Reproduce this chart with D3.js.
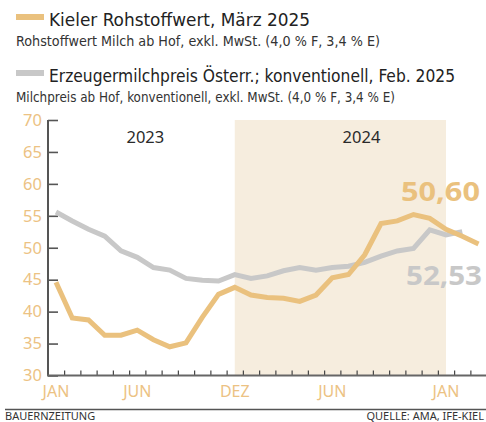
<!DOCTYPE html>
<html>
<head>
<meta charset="utf-8">
<script src="https://cdn.jsdelivr.net/npm/d3@7"></script>
<style>
  html, body { margin: 0; padding: 0; background: #fff; }
  svg { display: block; }
  text { font-family: "Noto Sans", "Open Sans", sans-serif; }
  .narrow { font-family: "Liberation Sans Narrow", "DejaVu Sans Condensed", "Noto Sans", sans-serif; }
</style>
</head>
<body>
<div id="chart"></div>
<script>
// ---- data ----
const months = [
  "2023-01","2023-02","2023-03","2023-04","2023-05","2023-06","2023-07","2023-08","2023-09","2023-10","2023-11","2023-12",
  "2024-01","2024-02","2024-03","2024-04","2024-05","2024-06","2024-07","2024-08","2024-09","2024-10","2024-11","2024-12",
  "2025-01","2025-02","2025-03"
];
// Kieler Rohstoffwert (orange), Jan 2023 – Mar 2025
const kielValues = [44.6, 39.0, 38.7, 36.3, 36.3, 37.1, 35.6, 34.5, 35.1, 39.1, 42.7, 43.8,
                    42.6, 42.2, 42.1, 41.6, 42.6, 45.3, 45.8, 48.9, 53.8, 54.2, 55.2, 54.6,
                    52.9, 51.8, 50.6];
// Erzeugermilchpreis Österreich konventionell (gray), Jan 2023 – Feb 2025
const milkValues = [55.6, 54.2, 52.9, 51.8, 49.5, 48.5, 46.9, 46.5, 45.2, 44.9, 44.8, 45.8,
                    45.2, 45.6, 46.4, 46.9, 46.5, 46.9, 47.1, 47.7, 48.7, 49.5, 49.9, 52.8,
                    52.0, 52.53];
const yTicks = [30, 35, 40, 45, 50, 55, 60, 65, 70];
const xLabels = [
  {month: "2023-01", label: "JAN"},
  {month: "2023-06", label: "JUN"},
  {month: "2023-12", label: "DEZ"},
  {month: "2024-06", label: "JUN"},
  {month: "2025-01", label: "JAN"}
];
const shadeRange = ["2023-12", "2025-01"];
const yearLabels = [{text: "2023", pos: 5.5}, {text: "2024", pos: 18.8}];
const series = [
  {title: "Kieler Rohstoffwert, März 2025",
   sub: "Rohstoffwert Milch ab Hof, exkl. MwSt. (4,0 % F, 3,4 % E)", color: "#EAC17E"},
  {title: "Erzeugermilchpreis Österr.; konventionell, Feb. 2025",
   sub: "Milchpreis ab Hof, konventionell, exkl. MwSt. (4,0 % F, 3,4 % E)", color: "#C8C8C8"}
];
const endLabels = ["50,60", "52,53"];

// ---- drawing ----
const W = 486, H = 422;
const svg = d3.select("#chart").append("svg").attr("width", W).attr("height", H);

const x = d3.scaleLinear().domain([0, months.length - 1]).range([56, 478.5]);
const y = d3.scaleLinear().domain([30, 70]).range([375.5, 120]);
const xi = m => x(months.indexOf(m));

// legend
const legendY = [0, 56];
series.forEach((s, i) => {
  const g = svg.append("g").attr("transform", `translate(0,${legendY[i]})`);
  g.append("rect").attr("x", 16).attr("y", 14).attr("width", 28).attr("height", 6).attr("fill", s.color);
  g.append("text").attr("class", "narrow").attr("x", 49).attr("y", 26).attr("font-size", 18.5).attr("fill", "#222")
    .attr("textLength", i === 0 ? 261 : 406).attr("lengthAdjust", "spacingAndGlyphs").text(s.title);
  g.append("text").attr("class", "narrow").attr("x", 16).attr("y", 45.5).attr("font-size", 13.5).attr("fill", "#333")
    .attr("textLength", i === 0 ? 364 : 379).attr("lengthAdjust", "spacingAndGlyphs").text(s.sub);
});

// shaded 2024 region
svg.append("rect")
  .attr("x", xi(shadeRange[0])).attr("y", y(70))
  .attr("width", xi(shadeRange[1]) - xi(shadeRange[0]))
  .attr("height", y(30) - y(70))
  .attr("fill", "#F6EDDE");

// year labels
svg.selectAll(".yr").data(yearLabels).enter().append("text")
  .attr("x", d => x(d.pos)).attr("y", 143).attr("text-anchor", "middle")
  .attr("font-size", 16.5).attr("fill", "#2a2a2a").text(d => d.text);

// y axis
const yAxis = d3.axisLeft(y).tickValues(yTicks).tickSize(-10).tickPadding(6).tickFormat(d3.format("d"));
const yg = svg.append("g").attr("transform", "translate(48,0)").call(yAxis);
yg.select(".domain").remove();
yg.append("line").attr("x1", 0).attr("x2", 0).attr("y1", y(70)).attr("y2", y(30))
  .attr("stroke", "#555").attr("stroke-width", 2);
yg.selectAll(".tick line").attr("stroke", "#555").attr("stroke-width", 1.6);
yg.selectAll(".tick text").attr("fill", "#ECC283").attr("font-size", 16.5)
  .attr("font-family", "'Noto Sans', sans-serif");

// lines
const line = d3.line().x((d, i) => x(i)).y(d => y(d));
svg.append("path").datum(milkValues).attr("d", line)
  .attr("fill", "none").attr("stroke", series[1].color).attr("stroke-width", 5);
svg.append("path").datum(kielValues).attr("d", line)
  .attr("fill", "none").attr("stroke", series[0].color).attr("stroke-width", 5);

// x axis
const tickPos = d3.range(0, months.length - 1).map(i => i + 0.5);
const xAxis = d3.axisBottom(x).tickValues(tickPos).tickSize(-5).tickFormat("");
const xg = svg.append("g").attr("transform", `translate(0,${y(30)})`).call(xAxis);
xg.select(".domain").remove();
xg.append("line").attr("x1", 47).attr("x2", W).attr("y1", 0).attr("y2", 0)
  .attr("stroke", "#666").attr("stroke-width", 2.2);
xg.selectAll(".tick line").attr("stroke", "#444").attr("stroke-width", 1.2);

svg.selectAll(".xl").data(xLabels).enter().append("text")
  .attr("x", d => xi(d.month)).attr("y", 397).attr("text-anchor", "middle")
  .attr("font-size", 16).attr("fill", "#ECC283").text(d => d.label);

// end value labels
svg.append("text").attr("x", 401).attr("y", 201).attr("font-size", 26).attr("font-weight", 700)
  .attr("fill", "#EAC17E").attr("textLength", 79).attr("lengthAdjust", "spacingAndGlyphs").text(endLabels[0]);
svg.append("text").attr("x", 406).attr("y", 285).attr("font-size", 26).attr("font-weight", 700)
  .attr("fill", "#C8C8C8").attr("textLength", 76).attr("lengthAdjust", "spacingAndGlyphs").text(endLabels[1]);

// footer
svg.append("line").attr("x1", 5).attr("x2", W).attr("y1", 409.5).attr("y2", 409.5)
  .attr("stroke", "#555").attr("stroke-width", 1.5);
svg.append("text").attr("x", 5).attr("y", 420).attr("font-size", 11).attr("fill", "#333").text("BAUERNZEITUNG");
svg.append("text").attr("x", 484).attr("y", 420).attr("font-size", 11).attr("fill", "#333")
  .attr("text-anchor", "end").text("QUELLE: AMA, IFE-KIEL");
</script>
</body>
</html>
